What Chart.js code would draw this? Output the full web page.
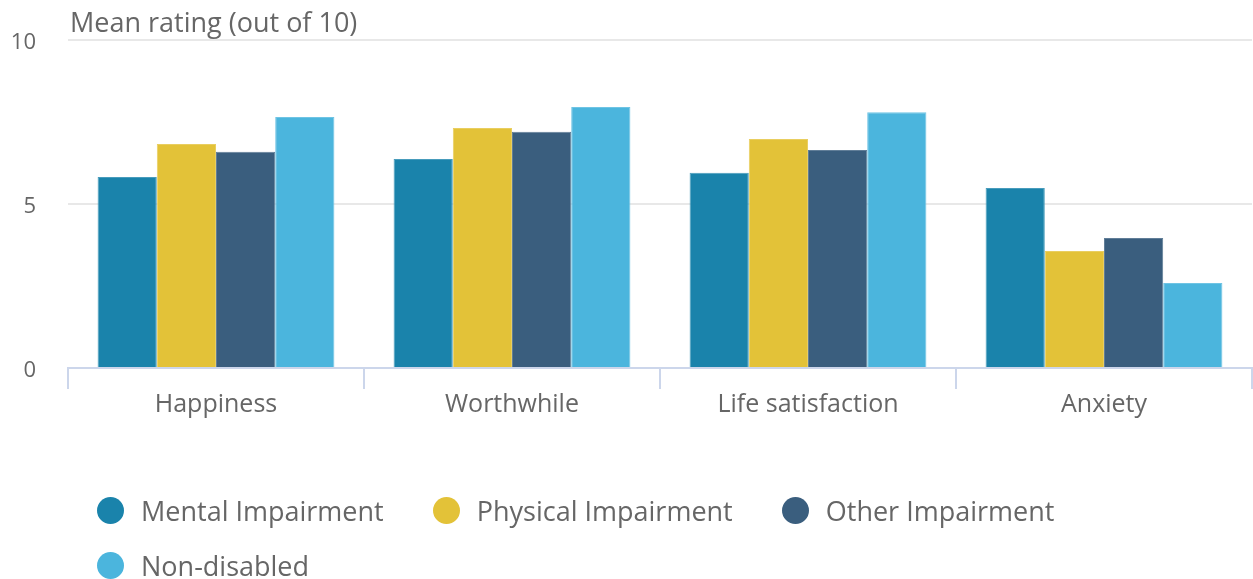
<!DOCTYPE html>
<html>
<head>
<meta charset="utf-8">
<script src="https://cdn.jsdelivr.net/npm/chart.js@4/dist/chart.umd.min.js"></script>
<style>
    html, body { margin: 0; padding: 0; background: #fff; }
    #wrap { position: relative; width: 1253px; height: 579px; }
    #legend {
        position: absolute; left: 97px; top: 495px; width: 1100px;
        display: flex; flex-wrap: wrap; font-family: "Open Sans", sans-serif;
        font-size: 27px; color: #666;
    }
    .item { display: flex; align-items: center; height: 30px; margin: 0 49px 25px 0; }
    .dot { width: 27px; height: 27px; border-radius: 50%; margin-right: 17px; }
</style>
</head>
<body>
<div id="wrap">
    <canvas id="wellbeingChart" width="1253" height="579"></canvas>
    <div id="legend"></div>
</div>
<script>
// Measures and groups
const categories = ['Happiness', 'Worthwhile', 'Life satisfaction', 'Anxiety'];
const groups = ['Mental Impairment', 'Physical Impairment', 'Other Impairment', 'Non-disabled'];
const colors = ['#1a83ab', '#e3c238', '#3a5e7e', '#4bb5dd'];

// Mean ratings per group, in category order
const mentalValues = [5.82, 6.37, 5.95, 5.49];
const physicalValues = [6.83, 7.32, 6.98, 3.57];
const otherValues = [6.59, 7.20, 6.65, 3.96];
const nonDisabledValues = [7.65, 7.96, 7.80, 2.59];

const yTicks = [0, 5, 10];
const axisTitle = 'Mean rating (out of 10)';

const seriesValues = [mentalValues, physicalValues, otherValues, nonDisabledValues];

// slightly lighter edge for each bar colour
function lighten(hex, amt) {
    const n = parseInt(hex.slice(1), 16);
    const ch = [(n >> 16) & 255, (n >> 8) & 255, n & 255].map(c => Math.round(c + (255 - c) * amt));
    return `rgb(${ch.join(',')})`;
}

// Axis title drawn horizontally above the plot
const axisTitlePlugin = {
    id: 'axisTitle',
    afterDraw(chart) {
        const ctx = chart.ctx;
        ctx.save();
        ctx.font = '27px "Open Sans"';
        ctx.fillStyle = '#666';
        ctx.textAlign = 'left';
        ctx.textBaseline = 'alphabetic';
        ctx.fillText(axisTitle, chart.chartArea.left + 2, 32);
        ctx.restore();
    }
};

const chart = new Chart(document.getElementById('wellbeingChart'), {
    type: 'bar',
    data: {
        labels: categories,
        datasets: groups.map((name, i) => ({
            label: name,
            data: seriesValues[i],
            backgroundColor: colors[i],
            borderColor: lighten(colors[i], 0.2),
            borderWidth: 1,
            borderSkipped: 'bottom',
            categoryPercentage: 0.8,
            barPercentage: 1.0
        }))
    },
    options: {
        responsive: false,
        animation: false,
        layout: { padding: { top: 40, right: 1, left: 0, bottom: 0 } },
        plugins: {
            legend: { display: false },
            tooltip: { enabled: false }
        },
        scales: {
            x: {
                afterFit(scale) { scale.height = 211; },
                border: { color: '#ccd6eb', width: 2 },
                grid: {
                    offset: true,
                    drawOnChartArea: false,
                    drawTicks: true,
                    tickLength: 21,
                    color: '#ccd6eb',
                    lineWidth: 2
                },
                ticks: {
                    color: '#666',
                    padding: 1,
                    font: { family: 'Open Sans', size: 25 }
                }
            },
            y: {
                min: 0,
                max: 10,
                afterFit(scale) {
                    scale.width = 68;
                    scale.paddingTop = 0;
                    scale.paddingBottom = 0;
                },
                afterBuildTicks(scale) { scale.ticks = yTicks.map(v => ({ value: v })); },
                border: { display: false },
                grid: { color: '#e8e8e8', lineWidth: 2, drawTicks: false },
                ticks: {
                    color: '#666',
                    padding: 32,
                    labelOffset: 3,
                    font: { family: 'Open Sans', size: 22 }
                }
            }
        }
    },
    plugins: [axisTitlePlugin]
});

// Legend built from the chart's datasets
const legend = document.getElementById('legend');
chart.data.datasets.forEach(ds => {
    const item = document.createElement('div');
    item.className = 'item';
    const dot = document.createElement('span');
    dot.className = 'dot';
    dot.style.background = ds.backgroundColor;
    const text = document.createElement('span');
    text.textContent = ds.label;
    item.appendChild(dot);
    item.appendChild(text);
    legend.appendChild(item);
});
</script>
</body>
</html>
